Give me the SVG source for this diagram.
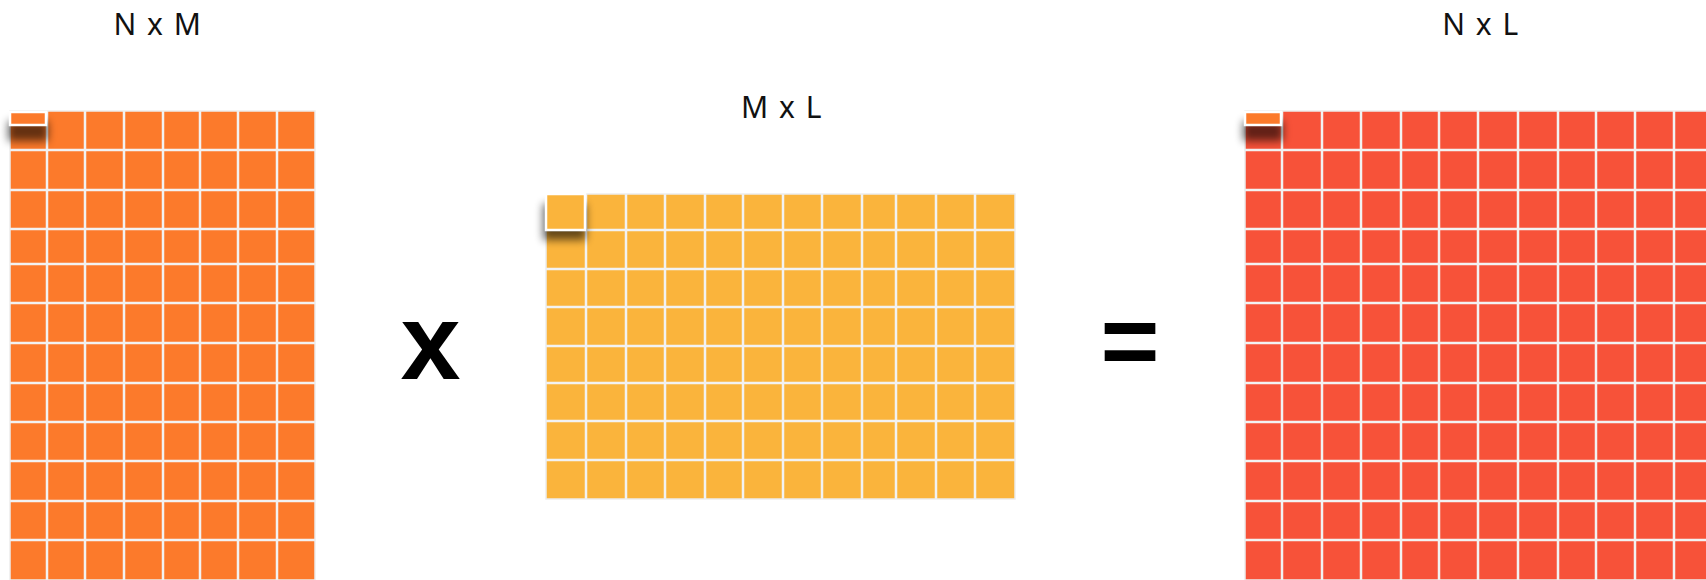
<svg xmlns="http://www.w3.org/2000/svg" width="1706" height="580" viewBox="0 0 1706 580">
  <defs>
    <style>
      .lbl { font-family: "Noto Sans", "DejaVu Sans", sans-serif; font-size: 30px; font-weight: 400; fill: #111; letter-spacing: 1.5px; text-anchor: middle; }
      .op { font-family: "Liberation Sans", Arial, sans-serif; font-weight: bold; fill: #000; text-anchor: middle; }
      .grid { fill: none; stroke: #F2F2F2; stroke-width: 2.5; }
      .edge { fill: none; stroke: #EDEDED; stroke-width: 1.5; }
      .lift { stroke: #FFFFFF; stroke-width: 2.5; }
      .shadow { fill: #000; opacity: 0.6; }
    </style>
    <filter id="blur" x="-50%" y="-50%" width="200%" height="200%">
      <feGaussianBlur stdDeviation="4"/>
    </filter>
  </defs>
  <rect width="1706" height="580" fill="#FFFFFF"/>

  <g id="matrix-nxm">
    <text class="lbl" x="158" y="35">N x M</text>
    <rect x="10" y="111" width="305" height="469" fill="#FC7A2B"/>
    <path class="grid" d="M47 111V580M85 111V580M124 111V580M163 111V580M200 111V580M238 111V580M277 111V580M10 150H315M10 190H315M10 229H315M10 264H315M10 303H315M10 343H315M10 383H315M10 422H315M10 461H315M10 501H315M10 540H315"/>
    <rect class="edge" x="10" y="111" width="305" height="469"/>
    <rect class="shadow" x="8" y="121" width="40" height="20" filter="url(#blur)"/>
    <rect class="lift" x="10" y="112" width="36" height="13" fill="#FC7A2B"/>
  </g>

  <g id="op-times">
    <text class="op" x="430.5" y="379" font-size="108">x</text>
  </g>

  <g id="matrix-mxl">
    <text class="lbl" x="782" y="118">M x L</text>
    <rect x="546" y="194" width="469" height="305" fill="#FAB43C"/>
    <path class="grid" d="M586 194V499M626 194V499M665 194V499M705 194V499M743 194V499M783 194V499M822 194V499M862 194V499M896 194V499M936 194V499M975 194V499M546 230H1015M546 269H1015M546 307H1015M546 346H1015M546 383H1015M546 421H1015M546 460H1015"/>
    <rect class="edge" x="546" y="194" width="469" height="305"/>
    <rect class="shadow" x="543" y="204" width="43" height="36" filter="url(#blur)"/>
    <rect class="lift" x="546" y="194" width="39" height="36" fill="#FAB43C"/>
  </g>

  <g id="op-equals">
    <text class="op" x="1130" y="375" font-size="101">=</text>
  </g>

  <g id="matrix-nxl">
    <text class="lbl" x="1481" y="35">N x L</text>
    <rect x="1245" y="111" width="470" height="469" fill="#F75239"/>
    <path class="grid" d="M1282 111V580M1322 111V580M1361 111V580M1401 111V580M1439 111V580M1478 111V580M1518 111V580M1558 111V580M1596 111V580M1635 111V580M1674 111V580M1245 150H1715M1245 190H1715M1245 229H1715M1245 264H1715M1245 303H1715M1245 343H1715M1245 383H1715M1245 422H1715M1245 461H1715M1245 501H1715M1245 540H1715"/>
    <rect class="edge" x="1245" y="111" width="470" height="469"/>
    <rect class="shadow" x="1243" y="121" width="40" height="20" filter="url(#blur)"/>
    <rect class="lift" x="1245" y="112" width="36" height="13" fill="#FC7A2B"/>
  </g>

  <g id="connectors"/>
</svg>
